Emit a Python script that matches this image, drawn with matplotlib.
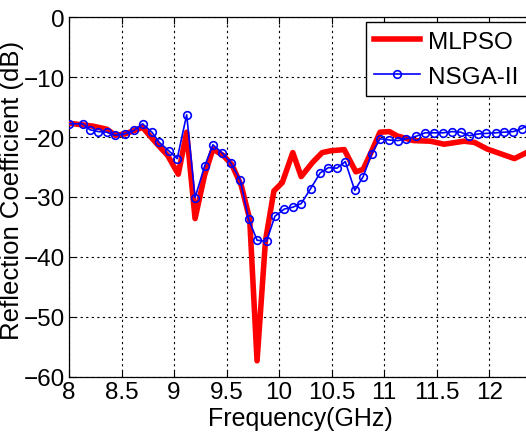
import matplotlib
matplotlib.use("Agg")
import matplotlib.pyplot as plt

plt.rcParams['font.family'] = ['Liberation Sans', 'DejaVu Sans']

red_freq = [8.0, 8.23, 8.36, 8.44, 8.53, 8.70, 8.84, 8.94, 9.04, 9.12, 9.20, 9.29, 9.37,
            9.47, 9.55, 9.64, 9.72, 9.79, 9.87, 9.95, 10.03, 10.13, 10.21, 10.32, 10.41,
            10.49, 10.62, 10.73, 10.80, 10.89, 10.96, 11.05, 11.12, 11.28, 11.44, 11.57,
            11.76, 11.86, 11.98, 12.11, 12.24, 12.39]
red_db = [-17.7, -18.2, -18.7, -19.7, -19.5, -18.4, -21.2, -23.1, -26.2, -19.2, -33.6, -26.4, -22.0,
          -23.1, -24.6, -28.1, -33.7, -57.3, -37.3, -29.0, -27.6, -22.6, -26.6, -24.2, -22.6,
          -22.3, -22.1, -25.8, -25.4, -22.0, -19.2, -19.1, -19.8, -20.6, -20.7, -21.2,
          -20.7, -20.9, -22.0, -22.8, -23.6, -22.3]

blue_freq = [8.00, 8.13, 8.20, 8.28, 8.36, 8.44, 8.53, 8.62, 8.70, 8.79, 8.86, 8.95, 9.03,
             9.12, 9.20, 9.29, 9.37, 9.46, 9.54, 9.63, 9.71, 9.79, 9.88, 9.96, 10.05, 10.13,
             10.21, 10.30, 10.39, 10.47, 10.55, 10.63, 10.72, 10.80, 10.88, 10.96, 11.05,
             11.13, 11.21, 11.30, 11.39, 11.47, 11.56, 11.65, 11.73, 11.81, 11.89, 11.97,
             12.06, 12.14, 12.23, 12.31, 12.39]
blue_db = [-17.8, -17.8, -18.8, -19.1, -19.2, -19.7, -19.5, -18.9, -17.8, -19.2, -20.9, -22.3, -23.6,
           -16.3, -30.1, -24.9, -21.3, -22.7, -24.3, -27.2, -33.7, -37.2, -37.4, -33.2, -32.0, -31.7,
           -31.1, -28.6, -26.0, -25.1, -25.2, -24.1, -28.9, -26.6, -22.8, -20.3, -20.5,
           -20.6, -20.3, -19.9, -19.3, -19.3, -19.3, -19.1, -19.2, -19.8, -19.5, -19.4,
           -19.3, -19.2, -19.1, -18.6, -17.8]

xticks = [8, 8.5, 9, 9.5, 10, 10.5, 11, 11.5, 12]
xticklabels = ['8', '8.5', '9', '9.5', '10', '10.5', '11', '11.5', '12']
yticks = [-60, -50, -40, -30, -20, -10, 0]

fig = plt.figure(figsize=(5.26, 4.39), dpi=100)
ax = fig.add_axes([69/526, 1 - 378/439, 1 - 69/526 + 0.01, 360/439])

ax.plot(red_freq, red_db, color='#ff0000', lw=4, label='MLPSO', zorder=3)
ax.plot(blue_freq, blue_db, color='#0000ff', lw=1.2, marker='o', markersize=5.5,
        markerfacecolor='none', markeredgecolor='#0000ff', markeredgewidth=1.2,
        label='NSGA-II', zorder=4)

ax.set_xlim(8, 12.4)
ax.set_ylim(-60, 0)
ax.set_xticks(xticks)
ax.set_xticklabels(xticklabels)
ax.set_yticks(yticks)
ax.tick_params(direction='in', labelsize=17.5, top=True, right=True, length=5, width=0.8, pad=3)
ax.grid(True, color='black', linestyle=(0, (2, 3)), linewidth=0.8)
for s in ax.spines.values():
    s.set_linewidth(0.9)

ax.set_xlabel('Frequency(GHz)', fontsize=18, labelpad=2)
ax.set_ylabel('Reflection Coefficient (dB)', fontsize=18.5)
ax.yaxis.set_label_coords(-0.097, 0.522)

leg = ax.legend(loc='upper right', bbox_to_anchor=(0.99, 0.986), fontsize=17.5,
                fancybox=False, edgecolor='black', framealpha=1, handlelength=1.9,
                handletextpad=0.3, borderpad=0.35, labelspacing=0.55, borderaxespad=0)
leg.get_frame().set_linewidth(1.0)

fig.savefig('out.png', dpi=100)
